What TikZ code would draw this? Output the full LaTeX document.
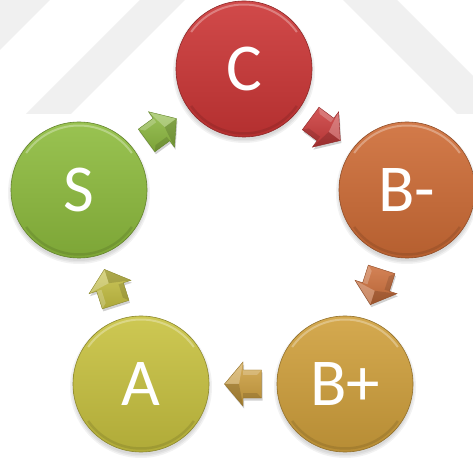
\documentclass[tikz,border=0pt]{standalone}
\usepackage{fontspec}
\setmainfont{Carlito}
\usetikzlibrary{calc}
\definecolor{cC}{RGB}{204,54,54}
\definecolor{cBm}{RGB}{206,108,54}
\definecolor{cBp}{RGB}{208,160,60}
\definecolor{cA}{RGB}{200,194,64}
\definecolor{cS}{RGB}{142,188,62}
\definecolor{wmark}{RGB}{240,240,240}
\tikzset{
  ball/.style={circle, minimum size=136pt, inner sep=0pt, text=white,
    font=\fontsize{67}{67}\selectfont, draw=#1!70!black, line width=0.6pt,
    top color=#1!90!white, middle color=#1, bottom color=#1!88!black},
}
\newcommand{\arrpath}{(18.5,0) -- (0,22) -- (0,14) -- (-18.5,14) -- (-18.5,-14) -- (0,-14) -- (0,-22) -- cycle}
\newcommand{\barrow}[4]{%
  \pgfmathanglebetweenpoints{\pgfpointanchor{#1}{center}}{\pgfpointanchor{#2}{center}}%
  \edef\barang{\pgfmathresult}%
  \pgfmathsetmacro\barneg{-1*(#4)}%
  \begin{scope}[shift={($(#1)!.5!(#2)$)}]
    \fill[black, opacity=.18, shift={(1,-2.5)}, rotate=\barang] \arrpath;
    \begin{scope}
      \clip[rotate=\barang] \arrpath;
      \shade[top color=#3!82!white, bottom color=#3!85!black] (-26,-26) rectangle (26,26);
      \fill[white, opacity=.25, rotate=\barang, yscale=#4] (18.5,0) -- (0,22) -- (4,0) -- cycle;
      \fill[black, opacity=.14, rotate=\barang, yscale=\barneg] (18.5,0) -- (0,22) -- (4,0) -- cycle;
      \fill[white, opacity=.22, rotate=\barang, yscale=#4] (0,14) -- (-18.5,14) -- (-14,9) -- (0,9) -- cycle;
      \fill[black, opacity=.12, rotate=\barang, yscale=\barneg] (0,14) -- (-18.5,14) -- (-14,9) -- (0,9) -- cycle;
    \end{scope}
    \draw[#3!70!black, line width=.4pt, rotate=\barang] \arrpath;
  \end{scope}}
\newcommand{\ballshadow}[1]{%
  \foreach \rr in {71,69.5,68}{\fill[black, opacity=.05] ($(#1)+(0,-3)$) circle[radius=\rr];}}
\newcommand{\ballrim}[1]{%
  \draw[white, opacity=.3, line width=2pt] ($(#1)+(35:64.5)$) arc[start angle=35, end angle=145, radius=64.5];
  \draw[black, opacity=.1, line width=2.5pt] ($(#1)+(215:64.5)$) arc[start angle=215, end angle=325, radius=64.5];}
\begin{document}
\begin{tikzpicture}[x=1pt, y=1pt]
\useasboundingbox (0,0) rectangle (473,460);
\fill[white] (0,0) rectangle (473,460);
% faint watermark
\fill[wmark] (0,460) -- (50,460) -- (0,410) -- cycle;
\fill[wmark] (140,460) -- (185,460) -- (71,346) -- (26,346) -- cycle;
\fill[wmark] (343,460) -- (397,460) -- (473,384) -- (473,346) -- (457,346) -- cycle;
% positions
\coordinate (pC) at (244,391);
\coordinate (pBm) at (407,270);
\coordinate (pBp) at (345,76);
\coordinate (pA) at (141,76);
\coordinate (pS) at (79,270);
\ballshadow{pC}\ballshadow{pBm}\ballshadow{pBp}\ballshadow{pA}\ballshadow{pS}
\node[ball=cC] (C) at (pC) {C};
\node[ball=cBm] (Bm) at (pBm) {B-};
\node[ball=cBp] (Bp) at (pBp) {B+};
\node[ball=cA] (A) at (pA) {A};
\node[ball=cS] (S) at (pS) {S};
\ballrim{C}\ballrim{Bm}\ballrim{Bp}\ballrim{A}\ballrim{S}
\barrow{S}{C}{cS}{1}
\barrow{C}{Bm}{cC}{1}
\barrow{Bm}{Bp}{cBm}{-1}
\barrow{Bp}{A}{cBp}{-1}
\barrow{A}{S}{cA}{1}
\end{tikzpicture}
\end{document}
